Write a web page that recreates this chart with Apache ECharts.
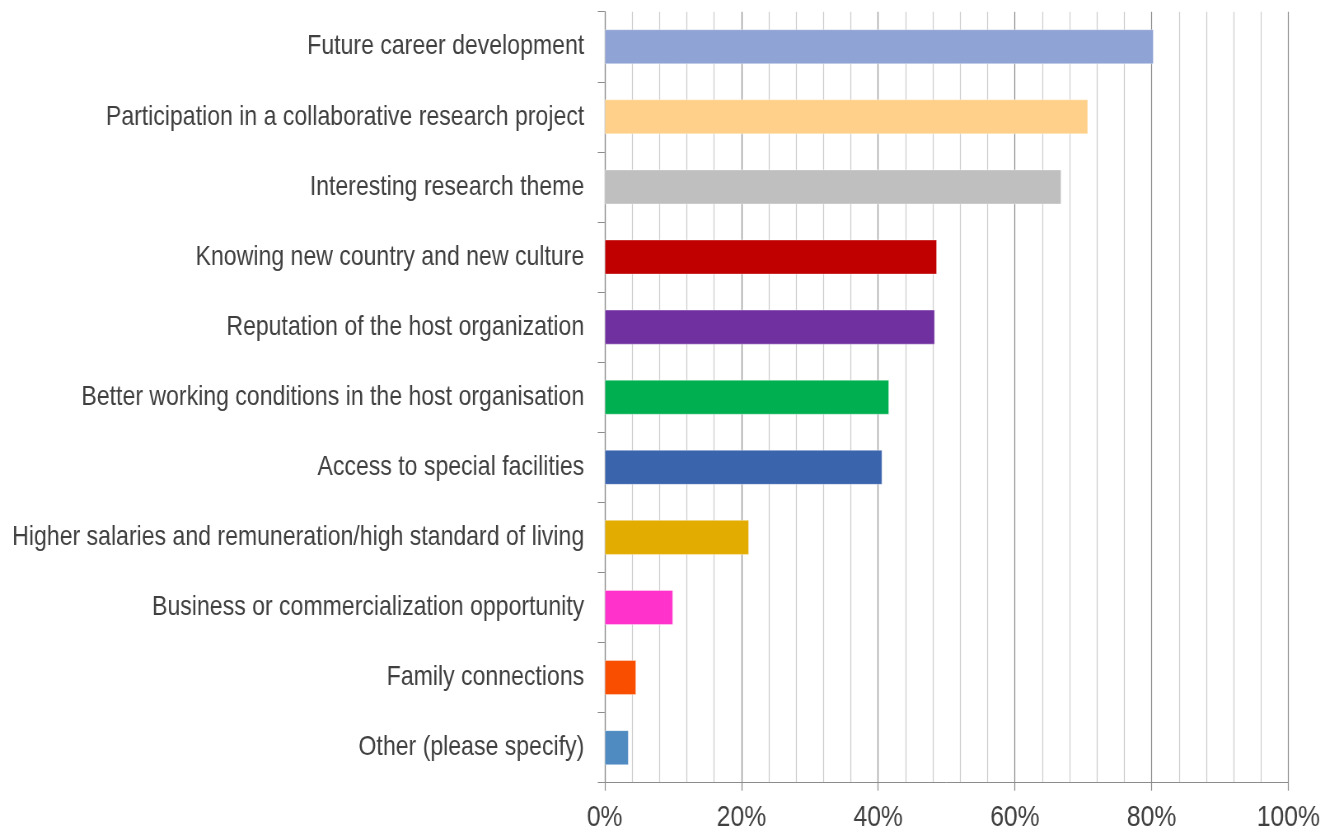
<!DOCTYPE html>
<html>
<head>
<meta charset="utf-8">
<script src="https://cdn.jsdelivr.net/npm/echarts@6/dist/echarts.min.js"></script>
<style>
  html, body { margin: 0; padding: 0; background: #fff; overflow: hidden; }
  #wrap { width: 1323px; height: 832px; overflow: hidden; }
  /* the chart is laid out wider and condensed horizontally, giving narrow lettering */
  #chart { height: 832px; transform-origin: 0 0; }
</style>
</head>
<body>
<div id="wrap"><div id="chart"></div></div>
<script>
// Motivations, top to bottom
const categories = [
  'Future career development',
  'Participation in a collaborative research project',
  'Interesting research theme',
  'Knowing new country and new culture',
  'Reputation of the host organization',
  'Better working conditions in the host organisation',
  'Access to special facilities',
  'Higher salaries and remuneration/high standard of living',
  'Business or commercialization opportunity',
  'Family connections',
  'Other (please specify)'
];
// Share of respondents, percent
const shares = [80.3, 70.7, 66.8, 48.6, 48.3, 41.6, 40.6, 21.1, 10.0, 4.6, 3.5];
const barColors = [
  '#8FA3D4', '#FFD089', '#BFBFBF', '#C00000', '#7030A0', '#00B050',
  '#3A64AC', '#E3AC00', '#FF33CC', '#F94D00', '#4F8AC0'
];
const tickLabels = ['0%', '20%', '40%', '60%', '80%', '100%'];

const SX = 0.824;              // horizontal condensing factor
const PAGE_W = 1323;
const FONT = '"Liberation Sans", Arial, sans-serif';

const el = document.getElementById('chart');
el.style.width = (PAGE_W / SX) + 'px';
el.style.transform = 'scaleX(' + SX + ')';

const chart = echarts.init(el, null, { renderer: 'canvas' });
const vw = 1 / SX;             // keeps vertical strokes about one pixel wide

chart.setOption({
  animation: false,
  backgroundColor: '#ffffff',
  grid: {
    left: 604.7 / SX, right: 35 / SX, top: 11.7, bottom: 49.3,
    containLabel: false,
    outerBoundsMode: 'none'
  },
  xAxis: {
    type: 'value',
    min: 0,
    max: 100,
    interval: 20,
    axisLine: { show: true, lineStyle: { color: '#8c8c8c', width: 1 } },
    axisTick: { show: true, length: 8, lineStyle: { color: '#8c8c8c', width: vw } },
    axisLabel: {
      color: '#404040',
      fontSize: 30,
      fontFamily: FONT,
      margin: 20,
      formatter: (v) => tickLabels[Math.round(v / 20)]
    },
    splitLine: { show: true, lineStyle: { color: '#8e8e8e', width: vw } },
    minorTick: { show: false, splitNumber: 5 },
    minorSplitLine: { show: true, lineStyle: { color: '#cdcdcd', width: vw } }
  },
  yAxis: {
    type: 'category',
    data: categories,
    inverse: true,
    axisLine: { show: true, lineStyle: { color: '#8c8c8c', width: vw } },
    axisTick: { show: true, length: 7 / SX, lineStyle: { color: '#8c8c8c', width: 1 } },
    axisLabel: {
      color: '#404040',
      fontSize: 28,
      fontFamily: FONT,
      margin: 20.5 / SX
    },
    splitLine: { show: false }
  },
  series: [{
    type: 'bar',
    data: shares.map((v, i) => ({
      value: v,
      itemStyle: { color: barColors[i] }
    })),
    barWidth: '50%',
    itemStyle: { borderColor: 'rgba(255,255,255,0.35)', borderWidth: 1 }
  }]
});
</script>
</body>
</html>
